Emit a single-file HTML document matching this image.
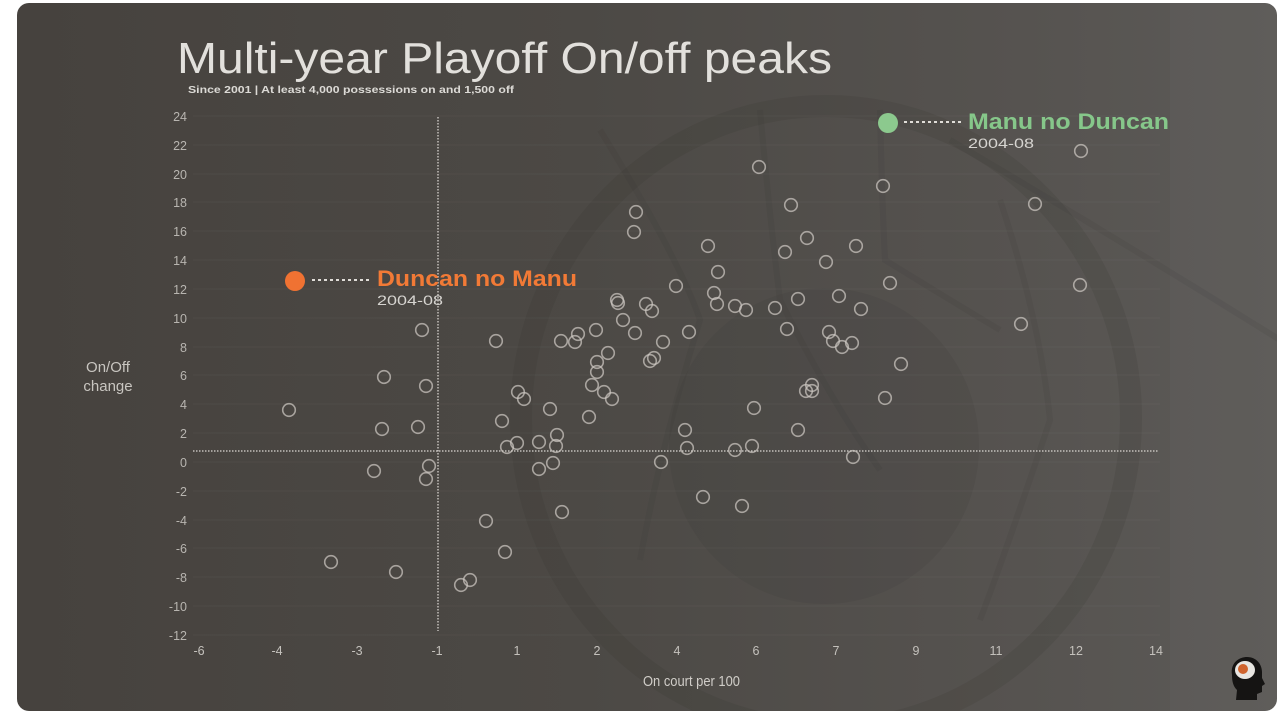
<!DOCTYPE html>
<html>
<head>
<meta charset="utf-8">
<style>
  html,body{margin:0;padding:0;background:#ffffff;}
  body{width:1280px;height:716px;overflow:hidden;}
  svg{display:block;}
  text{font-family:"Liberation Sans",sans-serif;}
</style>
</head>
<body>
<svg width="1280" height="716" viewBox="0 0 1280 716" xmlns="http://www.w3.org/2000/svg">
  <defs>
    <linearGradient id="bg" x1="0" y1="0" x2="1" y2="0">
      <stop offset="0" stop-color="#46423e"/>
      <stop offset="0.45" stop-color="#4c4945"/>
      <stop offset="0.8" stop-color="#565350"/>
      <stop offset="1" stop-color="#5c5a57"/>
    </linearGradient>
    <clipPath id="panel">
      <rect x="17" y="3" width="1260" height="708" rx="12" ry="12"/>
    </clipPath>
  </defs>

  <rect x="17" y="3" width="1260" height="708" rx="12" ry="12" fill="url(#bg)"/>

  <g clip-path="url(#panel)">
    <rect x="1170" y="3" width="110" height="708" fill="#ffffff" opacity="0.025"/>
    <ellipse cx="826" cy="418" rx="305" ry="312" fill="none" stroke="#2e2b28" stroke-opacity="0.13" stroke-width="22"/>
    <ellipse cx="824" cy="446" rx="155" ry="158" fill="#2e2b28" fill-opacity="0.09"/>
    <g stroke="#2e2b28" stroke-opacity="0.09" stroke-width="6" fill="none">
      <path d="M600 130 Q680 260 700 320 Q660 450 640 560"/>
      <path d="M760 110 Q770 220 780 300 Q830 400 880 470"/>
      <path d="M880 110 Q882 200 885 260 Q950 300 1000 330"/>
      <path d="M1000 200 Q1040 320 1050 420 Q1010 540 980 620"/>
      <path d="M950 140 Q1120 240 1280 340"/>
    </g>

    <g stroke="#ffffff" stroke-opacity="0.035" stroke-width="1">
      <line x1="193" y1="116" x2="1160" y2="116"/>
      <line x1="193" y1="145" x2="1160" y2="145"/>
      <line x1="193" y1="174" x2="1160" y2="174"/>
      <line x1="193" y1="202" x2="1160" y2="202"/>
      <line x1="193" y1="231" x2="1160" y2="231"/>
      <line x1="193" y1="260" x2="1160" y2="260"/>
      <line x1="193" y1="289" x2="1160" y2="289"/>
      <line x1="193" y1="318" x2="1160" y2="318"/>
      <line x1="193" y1="347" x2="1160" y2="347"/>
      <line x1="193" y1="375" x2="1160" y2="375"/>
      <line x1="193" y1="404" x2="1160" y2="404"/>
      <line x1="193" y1="433" x2="1160" y2="433"/>
      <line x1="193" y1="462" x2="1160" y2="462"/>
      <line x1="193" y1="491" x2="1160" y2="491"/>
      <line x1="193" y1="520" x2="1160" y2="520"/>
      <line x1="193" y1="548" x2="1160" y2="548"/>
      <line x1="193" y1="577" x2="1160" y2="577"/>
      <line x1="193" y1="606" x2="1160" y2="606"/>
      <line x1="193" y1="635" x2="1160" y2="635"/>
    </g>
  </g>

  <text x="177" y="73" font-size="44" fill="#e2e0dc" textLength="655" lengthAdjust="spacingAndGlyphs">Multi-year Playoff On/off peaks</text>
  <text x="188" y="93" font-size="10.5" font-weight="bold" fill="#dcdad6" textLength="326" lengthAdjust="spacingAndGlyphs">Since 2001 | At least 4,000 possessions on and 1,500 off</text>

  <g font-size="12.5" fill="#b8b5b0" text-anchor="end">
    <text x="187" y="121">24</text>
    <text x="187" y="150">22</text>
    <text x="187" y="179">20</text>
    <text x="187" y="207">18</text>
    <text x="187" y="236">16</text>
    <text x="187" y="265">14</text>
    <text x="187" y="294">12</text>
    <text x="187" y="323">10</text>
    <text x="187" y="352">8</text>
    <text x="187" y="380">6</text>
    <text x="187" y="409">4</text>
    <text x="187" y="438">2</text>
    <text x="187" y="467">0</text>
    <text x="187" y="496">-2</text>
    <text x="187" y="525">-4</text>
    <text x="187" y="553">-6</text>
    <text x="187" y="582">-8</text>
    <text x="187" y="611">-10</text>
    <text x="187" y="640">-12</text>
  </g>

  <g font-size="12.5" fill="#c4c1bc" text-anchor="middle">
    <text x="199" y="655">-6</text>
    <text x="277" y="655">-4</text>
    <text x="357" y="655">-3</text>
    <text x="437" y="655">-1</text>
    <text x="517" y="655">1</text>
    <text x="597" y="655">2</text>
    <text x="677" y="655">4</text>
    <text x="756" y="655">6</text>
    <text x="836" y="655">7</text>
    <text x="916" y="655">9</text>
    <text x="996" y="655">11</text>
    <text x="1076" y="655">12</text>
    <text x="1156" y="655">14</text>
  </g>

  <text x="643" y="686" font-size="15" fill="#d0cdc8" textLength="97" lengthAdjust="spacingAndGlyphs">On court per 100</text>
  <text x="108" y="372" font-size="15" fill="#c8c5c0" text-anchor="middle">On/Off</text>
  <text x="108" y="391" font-size="15" fill="#c8c5c0" text-anchor="middle">change</text>

  <line x1="438" y1="117" x2="438" y2="631" stroke="#d8d5d0" stroke-width="1.5" stroke-dasharray="1.5 1.5" stroke-opacity="0.85"/>
  <line x1="193" y1="451" x2="1158" y2="451" stroke="#d8d5d0" stroke-width="1.5" stroke-dasharray="1.5 1.5" stroke-opacity="0.85"/>

  <g fill="none" stroke="#cdc8c2" stroke-opacity="0.72" stroke-width="1.6">
    <circle cx="289" cy="410" r="6.3"/>
    <circle cx="422" cy="330" r="6.3"/>
    <circle cx="384" cy="377" r="6.3"/>
    <circle cx="426" cy="386" r="6.3"/>
    <circle cx="382" cy="429" r="6.3"/>
    <circle cx="418" cy="427" r="6.3"/>
    <circle cx="429" cy="466" r="6.3"/>
    <circle cx="374" cy="471" r="6.3"/>
    <circle cx="426" cy="479" r="6.3"/>
    <circle cx="331" cy="562" r="6.3"/>
    <circle cx="396" cy="572" r="6.3"/>
    <circle cx="496" cy="341" r="6.3"/>
    <circle cx="486" cy="521" r="6.3"/>
    <circle cx="505" cy="552" r="6.3"/>
    <circle cx="470" cy="580" r="6.3"/>
    <circle cx="461" cy="585" r="6.3"/>
    <circle cx="502" cy="421" r="6.3"/>
    <circle cx="507" cy="447" r="6.3"/>
    <circle cx="517" cy="443" r="6.3"/>
    <circle cx="518" cy="392" r="6.3"/>
    <circle cx="524" cy="399" r="6.3"/>
    <circle cx="539" cy="442" r="6.3"/>
    <circle cx="539" cy="469" r="6.3"/>
    <circle cx="550" cy="409" r="6.3"/>
    <circle cx="553" cy="463" r="6.3"/>
    <circle cx="556" cy="446" r="6.3"/>
    <circle cx="557" cy="435" r="6.3"/>
    <circle cx="561" cy="341" r="6.3"/>
    <circle cx="562" cy="512" r="6.3"/>
    <circle cx="575" cy="342" r="6.3"/>
    <circle cx="578" cy="334" r="6.3"/>
    <circle cx="589" cy="417" r="6.3"/>
    <circle cx="592" cy="385" r="6.3"/>
    <circle cx="596" cy="330" r="6.3"/>
    <circle cx="597" cy="362" r="6.3"/>
    <circle cx="597" cy="372" r="6.3"/>
    <circle cx="604" cy="392" r="6.3"/>
    <circle cx="608" cy="353" r="6.3"/>
    <circle cx="612" cy="399" r="6.3"/>
    <circle cx="617" cy="300" r="6.3"/>
    <circle cx="618" cy="303" r="6.3"/>
    <circle cx="623" cy="320" r="6.3"/>
    <circle cx="635" cy="333" r="6.3"/>
    <circle cx="634" cy="232" r="6.3"/>
    <circle cx="636" cy="212" r="6.3"/>
    <circle cx="646" cy="304" r="6.3"/>
    <circle cx="652" cy="311" r="6.3"/>
    <circle cx="650" cy="361" r="6.3"/>
    <circle cx="654" cy="358" r="6.3"/>
    <circle cx="663" cy="342" r="6.3"/>
    <circle cx="661" cy="462" r="6.3"/>
    <circle cx="676" cy="286" r="6.3"/>
    <circle cx="689" cy="332" r="6.3"/>
    <circle cx="685" cy="430" r="6.3"/>
    <circle cx="687" cy="448" r="6.3"/>
    <circle cx="703" cy="497" r="6.3"/>
    <circle cx="708" cy="246" r="6.3"/>
    <circle cx="714" cy="293" r="6.3"/>
    <circle cx="717" cy="304" r="6.3"/>
    <circle cx="718" cy="272" r="6.3"/>
    <circle cx="735" cy="306" r="6.3"/>
    <circle cx="735" cy="450" r="6.3"/>
    <circle cx="742" cy="506" r="6.3"/>
    <circle cx="746" cy="310" r="6.3"/>
    <circle cx="752" cy="446" r="6.3"/>
    <circle cx="754" cy="408" r="6.3"/>
    <circle cx="759" cy="167" r="6.3"/>
    <circle cx="775" cy="308" r="6.3"/>
    <circle cx="785" cy="252" r="6.3"/>
    <circle cx="787" cy="329" r="6.3"/>
    <circle cx="791" cy="205" r="6.3"/>
    <circle cx="798" cy="299" r="6.3"/>
    <circle cx="798" cy="430" r="6.3"/>
    <circle cx="807" cy="238" r="6.3"/>
    <circle cx="812" cy="385" r="6.3"/>
    <circle cx="806" cy="391" r="6.3"/>
    <circle cx="812" cy="391" r="6.3"/>
    <circle cx="826" cy="262" r="6.3"/>
    <circle cx="829" cy="332" r="6.3"/>
    <circle cx="833" cy="341" r="6.3"/>
    <circle cx="842" cy="347" r="6.3"/>
    <circle cx="852" cy="343" r="6.3"/>
    <circle cx="839" cy="296" r="6.3"/>
    <circle cx="853" cy="457" r="6.3"/>
    <circle cx="856" cy="246" r="6.3"/>
    <circle cx="861" cy="309" r="6.3"/>
    <circle cx="883" cy="186" r="6.3"/>
    <circle cx="890" cy="283" r="6.3"/>
    <circle cx="885" cy="398" r="6.3"/>
    <circle cx="901" cy="364" r="6.3"/>
    <circle cx="1021" cy="324" r="6.3"/>
    <circle cx="1035" cy="204" r="6.3"/>
    <circle cx="1080" cy="285" r="6.3"/>
    <circle cx="1081" cy="151" r="6.3"/>
  </g>

  <circle cx="888" cy="123" r="10" fill="#8cc98e"/>
  <line x1="904" y1="122" x2="963" y2="122" stroke="#e0ddd8" stroke-width="2" stroke-dasharray="3 3"/>
  <text x="968" y="129" font-size="22" font-weight="bold" fill="#86c78a" textLength="201" lengthAdjust="spacingAndGlyphs">Manu no Duncan</text>
  <text x="968" y="148" font-size="14" fill="#d6d4d0" textLength="66" lengthAdjust="spacingAndGlyphs">2004-08</text>

  <circle cx="295" cy="281" r="10" fill="#f07232"/>
  <line x1="312" y1="280" x2="372" y2="280" stroke="#e0ddd8" stroke-width="2" stroke-dasharray="3 3"/>
  <text x="377" y="286" font-size="22" font-weight="bold" fill="#f27a36" textLength="200" lengthAdjust="spacingAndGlyphs">Duncan no Manu</text>
  <text x="377" y="305" font-size="14" fill="#d6d4d0" textLength="66" lengthAdjust="spacingAndGlyphs">2004-08</text>

  <g>
    <path d="M1232 675 C1230 662 1240 657 1247 657 C1257 657 1262 665 1262 672 L1262 678 L1265 684 L1262 686 L1262 692 L1257 694 L1257 700 L1236 700 L1237 690 C1233 686 1232 681 1232 675 Z" fill="#151413"/>
    <ellipse cx="1245" cy="670" rx="10" ry="9" fill="#e8e6e2"/>
    <circle cx="1243" cy="669" r="5" fill="#d0642e"/>
  </g>
</svg>
</body>
</html>
